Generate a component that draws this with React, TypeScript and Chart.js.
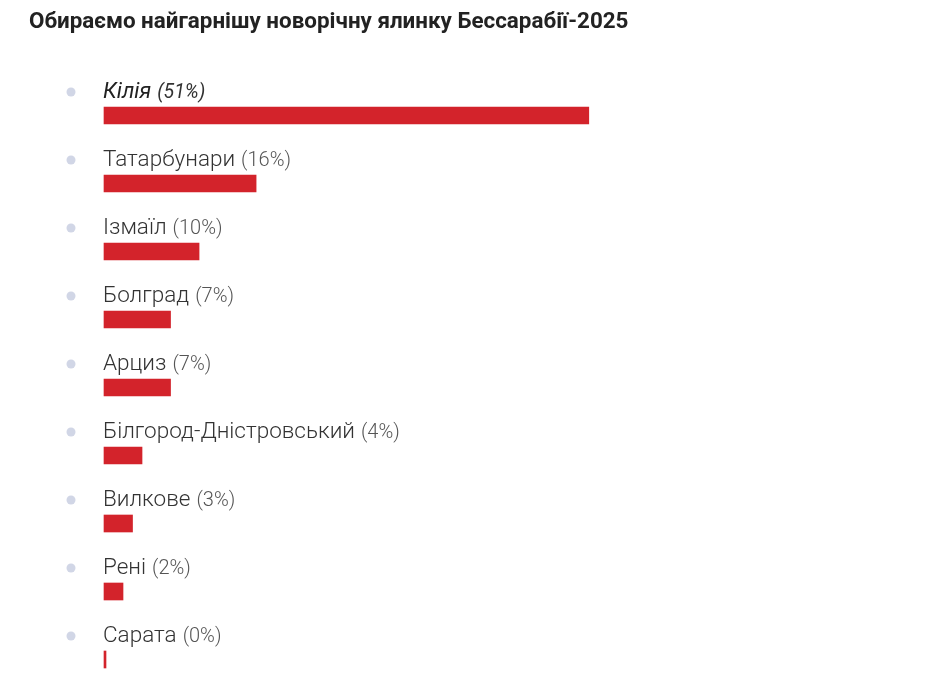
import React, { useEffect, useRef } from "react";
import { Chart, registerables } from "chart.js";
Chart.register(...registerables);

const title = "Обираємо найгарнішу новорічну ялинку Бессарабії-2025";
const categories = ["Кілія", "Татарбунари", "Ізмаїл", "Болград", "Арциз", "Білгород-Дністровський", "Вилкове", "Рені", "Сарата"];
const percents = [51, 16, 10, 7, 7, 4, 3, 2, 0];
const selectedIndex = 0;

const W = 923;
const H = 671;

export default function App() {
  const ref = useRef<HTMLCanvasElement>(null);
  useEffect(() => {
    if (!ref.current) return;
    const labelPlugin = {
      id: "pollLabels",
      afterDatasetsDraw(chart: any) {
        const ctx = chart.ctx;
        const meta = chart.getDatasetMeta(0);
        ctx.save();
        ctx.textAlign = "left";
        ctx.textBaseline = "alphabetic";
        ctx.font = "bold 22.4px Roboto";
        ctx.fillStyle = "#222222";
        ctx.fillText(title, 21, 20);
        meta.data.forEach((bar: any, i: number) => {
          const p = bar.getProps(["x", "y", "base", "height"], true);
          const top = p.y - p.height / 2;
          const baseline = top - 9;
          const left = Math.min(p.base, p.x) - 1;
          ctx.fillStyle = "#d1d6e6";
          ctx.beginPath();
          ctx.arc(63, baseline - 6, 4.5, 0, Math.PI * 2);
          ctx.fill();
          const sel = i === selectedIndex;
          const style = sel ? "italic 400 " : "300 ";
          ctx.font = style + (sel ? "22px" : "22.5px") + " Roboto";
          ctx.fillStyle = sel ? "#222222" : "#333333";
          ctx.fillText(categories[i], left, baseline);
          const w = ctx.measureText(categories[i]).width;
          ctx.font = style + (sel ? "19.5px" : "20px") + " Roboto";
          ctx.fillStyle = sel ? "#333333" : "#555555";
          ctx.fillText("(" + percents[i] + "%)", left + w + 6, baseline);
        });
        ctx.restore();
      },
    };
    const chart = new Chart(ref.current, {
      type: "bar",
      data: {
        labels: categories,
        datasets: [
          {
            data: percents,
            backgroundColor: "#d3232b",
            borderWidth: 0,
            barThickness: 17,
            minBarLength: 2,
            clip: false as any,
          },
        ],
      },
      options: {
        indexAxis: "y",
        responsive: false,
        animation: false,
        devicePixelRatio: 1,
        layout: { padding: { left: 96, right: 0, top: 107.5, bottom: 19.5 } },
        scales: {
          x: { type: "linear", min: 0, max: 87, display: false },
          y: { type: "category", display: false, offset: false },
        },
        plugins: { legend: { display: false }, tooltip: { enabled: false }, title: { display: false } },
      },
      plugins: [labelPlugin],
    });
    return () => chart.destroy();
  }, []);
  return (
    <div style={{ width: W, height: H }}>
      <canvas ref={ref} width={W} height={H} style={{ display: "block" }} />
    </div>
  );
}
